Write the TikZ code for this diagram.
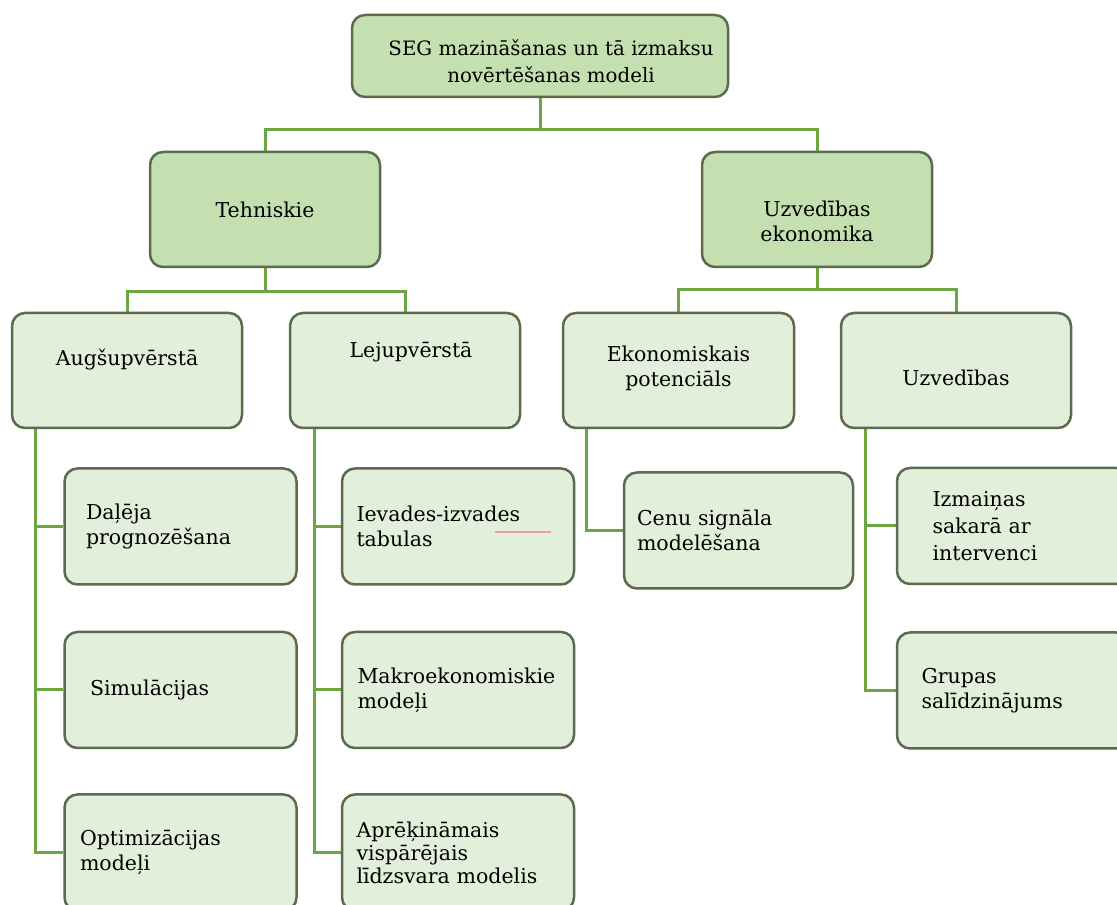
\documentclass[tikz,border=0pt]{standalone}
\usepackage{fontspec}
\setmainfont{DejaVu Serif}
\usetikzlibrary{backgrounds}
\definecolor{headfill}{RGB}{196,223,176}
\definecolor{leaffill}{RGB}{226,239,218}
\definecolor{boxline}{RGB}{92,106,78}
\definecolor{connc}{RGB}{108,166,66}
\definecolor{squig}{RGB}{238,160,160}
\begin{document}
\begin{tikzpicture}[x=1pt,y=1pt,
  font=\fontsize{20.5}{25}\selectfont,
  box/.style={draw=boxline, line width=2.5pt, rounded corners=13pt, inner sep=0pt},
  headbox/.style={box, fill=headfill, minimum width=230pt, minimum height=115pt},
  midbox/.style={box, fill=leaffill, minimum width=230pt, minimum height=115pt},
  leaf/.style={box, fill=leaffill, minimum width=232pt, minimum height=116pt, align=left, text width=#1},
  lbl/.style={align=center},
  conn/.style={draw=connc, line width=3pt}
]
\useasboundingbox (0,0) rectangle (1117,905);
\clip (0,0) rectangle (1117,905);

% level 1
\node[headbox, minimum width=376pt, minimum height=82pt,
  label={[lbl, font=\fontsize{19.8}{27}\selectfont, xshift=11pt, yshift=-5pt]center:SEG mazināšanas un tā izmaksu\\novērtēšanas modeli}] (top) at (540,849) {};

% level 2
\node[headbox, label={[lbl]center:Tehniskie}] (teh) at (265,695.5) {};
\node[headbox, label={[lbl, yshift=-12pt]center:Uzvedības\\ekonomika}] (uze) at (817,695.5) {};

% level 3
\node[midbox, label={[lbl, yshift=11pt]center:Augšupvērstā}] (aug) at (127,534.5) {};
\node[midbox, label={[lbl, xshift=6pt, yshift=18pt]center:Lejupvērstā}] (lej) at (405,534.5) {};
\node[midbox, minimum width=231pt, label={[lbl, yshift=2pt]center:Ekonomiskais\\potenciāls}] (eko) at (678.5,534.5) {};
\node[midbox, label={[lbl, yshift=-7pt]center:Uzvedības}] (uzv) at (956,534.5) {};

% level 4
\node[leaf=189pt] (dal) at (180.5,378.5) {Daļēja\\prognozēšana};
\node[leaf=181pt] (sim) at (180.5,215) {Simulācijas};
\node[leaf=201pt] (opt) at (180.5,52.5) {Optimizācijas\\modeļi};
\node[leaf=203pt] (iev) at (458,378.5) {Ievades-izvades\\tabulas};
\node[leaf=201pt] (mak) at (458,215) {Makroekonomiskie\\modeļi};
\node[leaf=203pt, font=\fontsize{20.5}{23}\selectfont] (apr) at (458,52.5) {Aprēķināmais\\vispārējais\\līdzsvara modelis};
\node[leaf=203pt, minimum width=229pt] (cen) at (738.5,374.5) {Cenu signāla\\modelēšana};
\node[leaf=161pt, font=\fontsize{20.5}{27}\selectfont] (izm) at (1013,379) {Izmaiņas\\sakarā ar\\intervenci};
\node[leaf=183pt] (gru) at (1013,214.5) {Grupas\\salīdzinājums};

\draw[squig, line width=1.2pt] (495,373) -- (551,373);

\begin{pgfonlayer}{background}
  \fill[white] (0,0) rectangle (1117,905);
  \draw[conn] (top.south) -- ++(0,-31) coordinate (j0);
  \draw[conn] (j0) -| (teh.north);
  \draw[conn] (j0) -| (uze.north);
  \draw[conn] (teh.south) -- ++(0,-23) coordinate (j1);
  \draw[conn] (j1) -| (aug.north);
  \draw[conn] (j1) -| (lej.north);
  \draw[conn] (uze.south) -- ++(0,-21) coordinate (j2);
  \draw[conn] (j2) -| (eko.north);
  \draw[conn] (j2) -| (uzv.north);
  \coordinate (a0) at ([xshift=-92pt]aug.south);
  \draw[conn] (a0) |- (dal.west);
  \draw[conn] (a0) |- (sim.west);
  \draw[conn] (a0) |- (opt.west);
  \coordinate (l0) at ([xshift=-91pt]lej.south);
  \draw[conn] (l0) |- (iev.west);
  \draw[conn] (l0) |- (mak.west);
  \draw[conn] (l0) |- (apr.west);
  \coordinate (e0) at ([xshift=-92.5pt]eko.south);
  \draw[conn] (e0) |- (cen.west);
  \coordinate (u0) at ([xshift=-91pt]uzv.south);
  \draw[conn] (u0) |- (izm.west);
  \draw[conn] (u0) |- (gru.west);
\end{pgfonlayer}
\end{tikzpicture}
\end{document}
